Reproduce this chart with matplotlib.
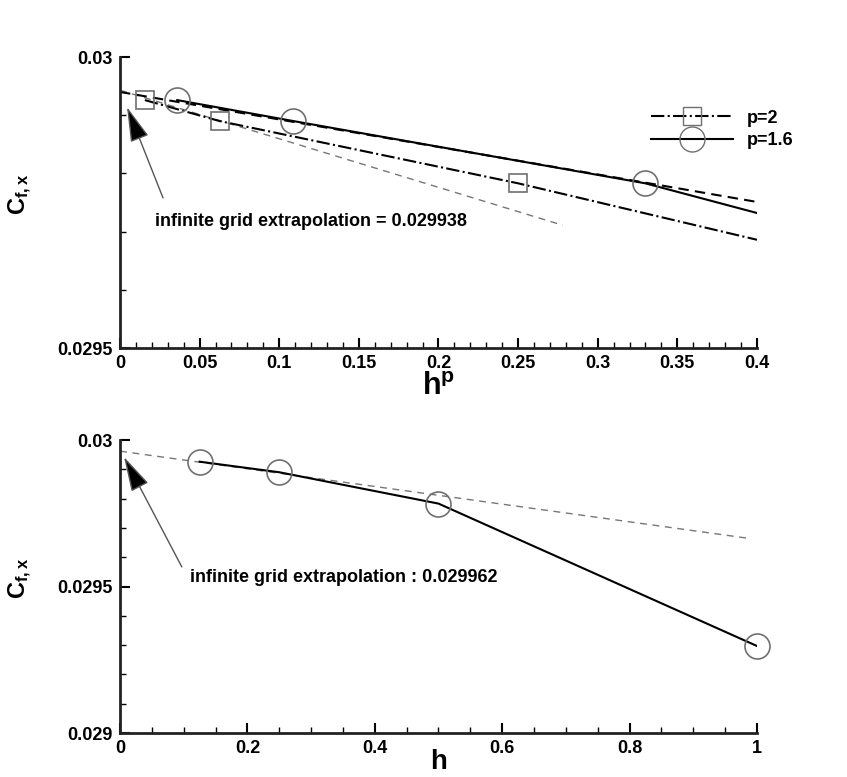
import matplotlib
matplotlib.use('Agg')
import matplotlib.pyplot as plt
from matplotlib.ticker import MultipleLocator, FormatStrFormatter

plt.rcParams['font.family'] = ['Liberation Sans', 'DejaVu Sans']
plt.rcParams['font.weight'] = 'bold'
plt.rcParams['mathtext.fontset'] = 'custom'
plt.rcParams['mathtext.bf'] = 'Liberation Sans:bold'
plt.rcParams['mathtext.rm'] = 'Liberation Sans:bold'

# grid spacing and skin friction values
h = [0.125, 0.25, 0.5, 1.0]
cf = [0.029926, 0.02989, 0.029783, 0.029297]

# h^p for the three finest grids
hp_2 = [0.015625, 0.0625, 0.25]
hp_16 = [0.0359, 0.1088, 0.3299]

# line extensions to the right edge of the top plot
line_2_x = [0.015625, 0.0625, 0.25, 0.4]
line_2_y = [0.029926, 0.02989, 0.029783, 0.029686]
line_16_x = [0.0359, 0.1088, 0.3299, 0.4]
line_16_y = [0.029926, 0.02989, 0.029783, 0.029732]

# extrapolation lines
fit_16_x = [0.0, 0.4]
fit_16_y = [0.029940, 0.029751]
fit_2_x = [0.0, 0.278]
fit_2_y = [0.029943, 0.029711]
fit_h_x = [0.0, 0.985]
fit_h_y = [0.029962, 0.029665]

top_text = 'infinite grid extrapolation = 0.029938'
bot_text = 'infinite grid extrapolation : 0.029962'

fig = plt.figure(figsize=(8.47, 7.77), dpi=100)
ax1 = fig.add_axes([0.1417, 0.5521, 0.752, 0.3745])
ax2 = fig.add_axes([0.1417, 0.0566, 0.752, 0.3771])

mk_edge = '#707070'
arrow = dict(arrowstyle='-|>,head_length=1.1,head_width=0.3', color='#555555',
             lw=1, mutation_scale=20, fc='black', ec='#555555',
             shrinkA=0, shrinkB=0)


def style(ax):
    for s in ['top', 'right']:
        ax.spines[s].set_visible(False)
    for s in ['left', 'bottom']:
        ax.spines[s].set_linewidth(2)
        ax.spines[s].set_color('#222222')
    ax.tick_params(which='major', direction='in', length=7, width=1.5,
                   labelsize=13, pad=5)
    ax.tick_params(which='minor', direction='in', length=4, width=1)
    ax.yaxis.set_major_formatter(FormatStrFormatter('%g'))
    ax.xaxis.set_major_formatter(FormatStrFormatter('%g'))
    ax.yaxis.set_minor_locator(MultipleLocator(0.0001))
    ax.yaxis.set_major_locator(MultipleLocator(0.0005))


# top: Cf vs h^p
ax1.plot(fit_2_x, fit_2_y, '--', color='#777777', lw=1, dashes=(5, 4))
ax1.plot(fit_16_x, fit_16_y, '--', color='black', lw=1.5, dashes=(5, 3))
ax1.plot(line_2_x, line_2_y, '-.', color='black', lw=1.5)
ax1.plot(line_16_x, line_16_y, '-', color='black', lw=1.5)
ax1.plot(hp_2, cf[:3], 's', ms=13, mfc='none', mec=mk_edge, mew=1.2)
ax1.plot(hp_16, cf[:3], 'o', ms=18, mfc='none', mec=mk_edge, mew=1.2)

# legend proxies
ax1.plot([], [], '-.', color='black', lw=1.5, marker='s', ms=13,
         mfc='none', mec=mk_edge, label='p=2')
ax1.plot([], [], '-', color='black', lw=1.5, marker='o', ms=18,
         mfc='none', mec=mk_edge, label='p=1.6')
ax1.legend(loc='upper right', bbox_to_anchor=(1.072, 0.85), frameon=False,
           handlelength=4.5, labelspacing=0.3, borderpad=0,
           prop={'weight': 'bold', 'size': 13})

ax1.annotate('', xy=(0.0044, 0.029914), xytext=(0.027, 0.029758),
             arrowprops=arrow)
ax1.text(0.022, 0.029717, top_text, fontsize=13, fontweight='bold',
         va='center', ha='left')

ax1.set_xlim(0, 0.4)
ax1.set_ylim(0.0295, 0.03)
ax1.xaxis.set_major_locator(MultipleLocator(0.05))
ax1.xaxis.set_minor_locator(MultipleLocator(0.01))
style(ax1)
ax1.set_xlabel(r'$\mathbf{h^p}$', fontsize=22, labelpad=0)
ax1.set_ylabel(r'$\mathbf{C_{f,x}}$', fontsize=17)
ax1.yaxis.set_label_coords(-0.135, 0.53)

# bottom: Cf vs h
ax2.plot(fit_h_x, fit_h_y, '--', color='#777777', lw=1, dashes=(5, 4))
ax2.plot(h, cf, '-', color='black', lw=1.5)
ax2.plot(h, cf, 'o', ms=18, mfc='none', mec=mk_edge, mew=1.2, clip_on=False)

ax2.annotate('', xy=(0.0063, 0.029942), xytext=(0.097, 0.029567),
             arrowprops=arrow)
ax2.text(0.11, 0.029532, bot_text, fontsize=13, fontweight='bold',
         va='center', ha='left')

ax2.set_xlim(0, 1)
ax2.set_ylim(0.029, 0.03)
ax2.xaxis.set_major_locator(MultipleLocator(0.2))
ax2.xaxis.set_minor_locator(MultipleLocator(0.05))
style(ax2)
ax2.set_xlabel(r'$\mathbf{h}$', fontsize=20, labelpad=-6)
ax2.set_ylabel(r'$\mathbf{C_{f,x}}$', fontsize=17)
ax2.yaxis.set_label_coords(-0.135, 0.53)

fig.savefig('out.png', dpi=100)
